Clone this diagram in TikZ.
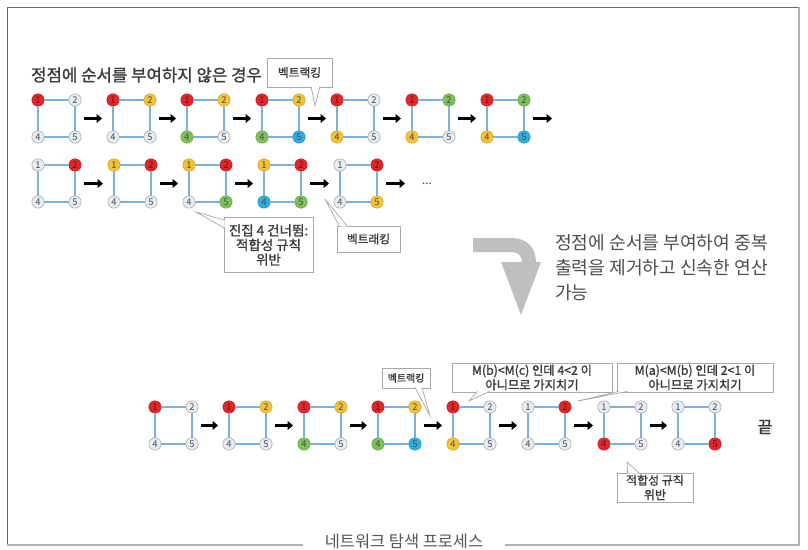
\documentclass[tikz,border=0pt]{standalone}
\usepackage{fontspec}
\setmainfont{Noto Sans CJK KR}
\newfontfamily\krmid[FakeBold=1.2]{Noto Sans CJK KR}
\usetikzlibrary{arrows.meta,calc}

\definecolor{vred}{HTML}{E3262A}
\definecolor{vyel}{HTML}{F4C232}
\definecolor{vgrn}{HTML}{7DC257}
\definecolor{vblu}{HTML}{2FAEE3}
\definecolor{vwht}{HTML}{E8EDF3}
\definecolor{vedge}{HTML}{7DB1DB}
\definecolor{ink}{HTML}{3A3A3A}
\definecolor{boxline}{HTML}{A8A8A8}
\definecolor{bigarrow}{HTML}{BFBFBF}

\tikzset{
  vtx/.style={circle,draw=gray!70,line width=0.5pt,fill=vwht,minimum size=3.7mm,
    inner sep=0pt,text=black!70,font=\fontsize{8}{8}\selectfont},
  cR/.style={fill=vred,draw=vred!85!black,text=vred!45!black},
  cY/.style={fill=vyel,draw=vyel!85!black},
  cG/.style={fill=vgrn,draw=vgrn!85!black},
  cB/.style={fill=vblu,draw=vblu!85!black},
  cW/.style={},
  edge/.style={vedge,line width=1.8pt},
  stepto/.style={line width=2.4pt,-{Triangle[length=1.6mm,width=2.6mm]}},
  callbox/.style={draw=boxline,fill=white,line width=0.6pt,align=center,
    text=ink,inner sep=0pt},
  callline/.style={draw=boxline,line width=0.6pt},
}

% one square graph: name, x, y, colours of vertices 1, 2, 4, 5
\newcommand{\vsquare}[7]{%
  \begin{scope}[shift={(#2,#3)}]
    \node[vtx,#4] (#1-1) at (0,0) {1};
    \node[vtx,#5] (#1-2) at (37,0) {2};
    \node[vtx,#6] (#1-4) at (0,37) {4};
    \node[vtx,#7] (#1-5) at (37,37) {5};
    \draw[edge] (#1-1) -- (#1-2) -- (#1-5) -- (#1-4) -- (#1-1);
    \coordinate (#1-in) at (-11,18.5);
    \coordinate (#1-out) at (46,18.5);
  \end{scope}}

% wedge of a callout: base start, base end, tip
\newcommand{\callptr}[3]{%
  \fill[white] (#1) -- (#3) -- (#2) -- cycle;
  \draw[callline] (#1) -- (#3) -- (#2);}

\begin{document}
\begin{tikzpicture}[x=0.3mm,y=-0.3mm]
  \useasboundingbox (0,0) rectangle (808,550);

  % --- frame and caption
  \node[font=\fontsize{14}{16}\selectfont,text=ink!85] (caption) at (404,541) {네트워크 탐색 프로세스};
  \draw[line width=0.7pt,black!60] (7,545) -- (7,7) -- (799,7);
  \draw[line width=1.6pt,black!30] (799,7) -- (799,545) -- (505,545);
  \draw[line width=1.6pt,black!30] (303,545) -- (7,545);

  % --- without vertex order
  \node[anchor=west,font=\krmid\fontsize{14.3}{16}\selectfont,text=ink] (title) at (27,75) {정점에 순서를 부여하지 않은 경우};

  \vsquare{a1}{38}{100}{cR}{cW}{cW}{cW}
  \vsquare{a2}{113}{100}{cR}{cY}{cW}{cW}
  \vsquare{a3}{187}{100}{cR}{cY}{cG}{cW}
  \vsquare{a4}{262}{100}{cR}{cY}{cG}{cB}
  \vsquare{a5}{337}{100}{cR}{cW}{cY}{cW}
  \vsquare{a6}{412}{100}{cR}{cG}{cY}{cW}
  \vsquare{a7}{487}{100}{cR}{cG}{cY}{cB}
  \coordinate (a-end) at (552,118.5);
  \foreach \i/\j in {1/2,2/3,3/4,4/5,5/6,6/7}
    \draw[stepto] (a\i-out) -- (a\j-in);
  \draw[stepto] (a7-out) -- (a-end);

  \vsquare{b1}{38}{165}{cW}{cR}{cW}{cW}
  \vsquare{b2}{114}{165}{cY}{cR}{cW}{cW}
  \vsquare{b3}{189}{165}{cY}{cR}{cW}{cG}
  \vsquare{b4}{264}{165}{cY}{cR}{cB}{cG}
  \vsquare{b5}{340}{165}{cW}{cR}{cW}{cY}
  \coordinate (b-end) at (405,183.5);
  \foreach \i/\j in {1/2,2/3,3/4,4/5}
    \draw[stepto] (b\i-out) -- (b\j-in);
  \draw[stepto] (b5-out) -- (b-end);
  \node[font=\fontsize{10}{10}\selectfont,text=ink] (more) at (427,184) {...};

  % callouts, top part
  \node[callbox,minimum width=19.5mm,minimum height=8.7mm,font=\krmid\fontsize{10}{12}\selectfont] (bt1) at (299.5,72.5) {벡트랙킹};
  \coordinate (bt1-tip) at (315,106);
  \callptr{$(bt1.south)+(11.5,-1)$}{$(bt1.south)+(20.5,-1)$}{bt1-tip}

  \node[callbox,minimum width=26.7mm,minimum height=16.5mm,font=\krmid\fontsize{11.5}{12.5}\selectfont] (skip4) at (268.5,245) {진집 4 건너뜀:\\적합성 규칙\\위반};
  \coordinate (skip4-tip) at (196,212);
  \callptr{$(skip4.north west)+(1,3)$}{$(skip4.north west)+(1,11)$}{skip4-tip}

  \node[callbox,minimum width=18.9mm,minimum height=7.8mm,font=\krmid\fontsize{10}{12}\selectfont] (bt2) at (368.5,239) {벡트래킹};
  \coordinate (bt2-tip) at (325,199);
  \callptr{$(bt2.north west)+(3,1)$}{$(bt2.north west)+(11,1)$}{bt2-tip}

  % --- big turn arrow and note
  \fill[bigarrow] (473,238) -- (512,238) .. controls (527,238) and (536,248) .. (536,262)
    -- (541,262) -- (521,315) -- (501,262) -- (522,262)
    .. controls (522,256) and (518,252) .. (512,252) -- (473,252) -- cycle;
  \node[anchor=north west,align=left,font=\fontsize{15.5}{21.5}\selectfont,text=ink!90] (note) at (551,230)
    {정점에 순서를 부여하여 중복\\출력을 제거하고 신속한 연산\\가능};

  % --- with vertex order
  \vsquare{c1}{155}{407}{cR}{cW}{cW}{cW}
  \vsquare{c2}{229}{407}{cR}{cY}{cW}{cW}
  \vsquare{c3}{304}{407}{cR}{cY}{cG}{cW}
  \vsquare{c4}{378}{407}{cR}{cY}{cG}{cB}
  \vsquare{c5}{453}{407}{cR}{cW}{cY}{cW}
  \vsquare{c6}{528}{407}{cW}{cR}{cW}{cW}
  \vsquare{c7}{604}{407}{cW}{cW}{cR}{cW}
  \vsquare{c8}{678}{407}{cW}{cW}{cW}{cR}
  \foreach \i/\j in {1/2,2/3,3/4,4/5,5/6,6/7,7/8}
    \draw[stepto] (c\i-out) -- (c\j-in);
  \node[font=\krmid\fontsize{14}{16}\selectfont,text=ink] (fin) at (765,427) {끝};

  \node[callbox,minimum width=14.4mm,minimum height=6mm,font=\krmid\fontsize{8.5}{10}\selectfont] (bt3) at (406,378) {벡트랙킹};
  \coordinate (bt3-tip) at (430,416);
  \callptr{$(bt3.south)+(9,-1)$}{$(bt3.south)+(16,-1)$}{bt3-tip}

  \node[callbox,minimum width=48mm,minimum height=8.7mm,font=\krmid\fontsize{10.5}{12.5}\selectfont] (mbc) at (532,377.5) {M(b)<M(c) 인데 4<2 이\\아니므로 가지치기};
  \coordinate (mbc-tip) at (469,401);
  \callptr{$(mbc.south west)+(26,-1)$}{$(mbc.south west)+(38,-1)$}{mbc-tip}

  \node[callbox,minimum width=46.8mm,minimum height=8.7mm,font=\krmid\fontsize{10.5}{12.5}\selectfont] (mab) at (695,377.5) {M(a)<M(b) 인데 2<1 이\\아니므로 가지치기};
  \coordinate (mab-tip) at (578,401);
  \callptr{$(mab.south west)+(2,-1)$}{$(mab.south west)+(11,-1)$}{mab-tip}

  \node[callbox,minimum width=22.8mm,minimum height=8.7mm,font=\krmid\fontsize{10.2}{12.5}\selectfont] (fit2) at (655,487.5) {적합성 규칙\\위반};
  \coordinate (fit2-tip) at (627,462);
  \callptr{$(fit2.north west)+(11,1)$}{$(fit2.north west)+(23,1)$}{fit2-tip}
\end{tikzpicture}
\end{document}
